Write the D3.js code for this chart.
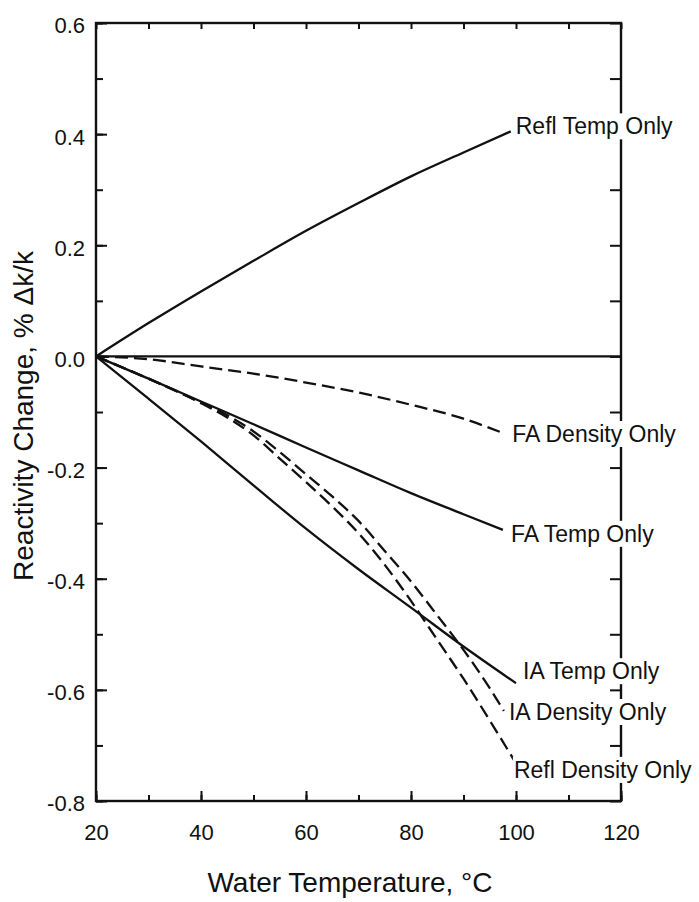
<!DOCTYPE html>
<html>
<head>
<meta charset="utf-8">
<script src="https://cdn.jsdelivr.net/npm/d3@7"></script>
<style>
  body { margin: 0; background: #fff; }
  svg { display: block; font-family: "Liberation Sans", Arial, Helvetica, sans-serif; }
</style>
</head>
<body>
<div id="chart"></div>
<script>
// Reactivity change vs water temperature, one line per effect

// series values: [water temperature (°C), reactivity change (% dk/k)]
const reflTemp = [[20, 0], [30, 0.06], [40, 0.117], [50, 0.172], [60, 0.226], [70, 0.276], [80, 0.324], [90, 0.367], [99, 0.405]];
const zeroLine = [[20, 0], [120, 0]];
const faDensity = [[20, 0], [30, -0.005], [40, -0.018], [50, -0.031], [60, -0.047], [70, -0.065], [80, -0.087], [90, -0.112], [97, -0.136]];
const faTemp = [[20, 0], [30, -0.040], [40, -0.081], [50, -0.122], [60, -0.164], [70, -0.205], [80, -0.246], [90, -0.284], [97.5, -0.312]];
const iaTemp = [[20, 0], [30, -0.076], [40, -0.153], [50, -0.232], [60, -0.31], [70, -0.383], [80, -0.452], [90, -0.522], [100, -0.588]];
const iaDensity = [[20, 0], [30, -0.04], [40, -0.083], [45, -0.106], [50, -0.135], [55, -0.172], [60, -0.212], [65, -0.252], [70, -0.296], [75, -0.35], [80, -0.405], [85, -0.466], [90, -0.528], [95, -0.597], [97.7, -0.638]];
const reflDensity = [[20, 0], [30, -0.04], [40, -0.084], [45, -0.11], [50, -0.142], [55, -0.184], [60, -0.226], [65, -0.27], [70, -0.318], [75, -0.375], [80, -0.44], [85, -0.51], [90, -0.58], [95, -0.655], [99.6, -0.726]];

// tick labels
const xTicks = [20, 40, 60, 80, 100, 120];
const yTicks = [0.6, 0.4, 0.2, 0.0, -0.2, -0.4, -0.6, -0.8];
const xMinor = d3.range(20, 121, 10);
const yMinor = d3.range(-8, 7).map(d => d / 10);

// series list: data, dashed?, label
const series = [
  { name: "Refl Temp Only", data: reflTemp, dashed: false },
  { name: null, data: zeroLine, dashed: false },
  { name: "FA Density Only", data: faDensity, dashed: true },
  { name: "FA Temp Only", data: faTemp, dashed: false },
  { name: "IA Temp Only", data: iaTemp, dashed: false },
  { name: "IA Density Only", data: iaDensity, dashed: true },
  { name: "Refl Density Only", data: reflDensity, dashed: true }
];

// label offsets (px) from each line's end point
const labelOffset = {
  "Refl Temp Only": [5, 3],
  "FA Density Only": [12, 10],
  "FA Temp Only": [8, 12],
  "IA Temp Only": [7, -4],
  "IA Density Only": [5, 9],
  "Refl Density Only": [0, 18]
};

const width = 699, height = 902;
const plot = { left: 96, right: 621, top: 23, bottom: 801 };

const svg = d3.select("#chart")
  .append("svg")
    .attr("width", width)
    .attr("height", height)
    .style("background", "#fff");

const x = d3.scaleLinear().domain([20, 120]).range([plot.left, plot.right]);
const y = d3.scaleLinear().domain([-0.8, 0.6]).range([plot.bottom, plot.top]);

// plain hyphen for negatives, like the original
const fmtY = d => d3.format(".1f")(d).replace("\u2212", "-");

// Axes (ticks point inward)
function styleAxis(g) {
  g.select(".domain").remove();
  g.selectAll(".tick line").attr("stroke", "#111").attr("stroke-width", 2);
  g.selectAll(".tick text").attr("fill", "#111").style("font-size", "22px");
}

svg.append("g")
  .attr("transform", `translate(0,${plot.bottom})`)
  .call(d3.axisBottom(x).tickValues(xMinor).tickSize(-6).tickFormat(""))
  .call(styleAxis);
svg.append("g")
  .attr("transform", `translate(0,${plot.bottom})`)
  .call(d3.axisBottom(x).tickValues(xTicks).tickSize(-10).tickPadding(23).tickFormat(d3.format("d")))
  .call(styleAxis);

svg.append("g")
  .attr("transform", `translate(${plot.left},0)`)
  .call(d3.axisLeft(y).tickValues(yMinor).tickSize(-7).tickFormat(""))
  .call(styleAxis);
svg.append("g")
  .attr("transform", `translate(${plot.left},0)`)
  .call(d3.axisLeft(y).tickValues(yTicks).tickSize(-11).tickPadding(11).tickFormat(fmtY))
  .call(styleAxis)
  .call(g => g.selectAll(".tick text").attr("dy", "0.45em"));

svg.append("g")
  .attr("transform", `translate(0,${plot.top})`)
  .call(d3.axisTop(x).tickValues(xMinor).tickSize(-6).tickFormat(""))
  .call(styleAxis);
svg.append("g")
  .attr("transform", `translate(${plot.right},0)`)
  .call(d3.axisRight(y).tickValues(yMinor).tickSize(-11).tickFormat(""))
  .call(styleAxis);

// frame
svg.append("rect")
  .attr("x", plot.left)
  .attr("y", plot.top)
  .attr("width", plot.right - plot.left)
  .attr("height", plot.bottom - plot.top)
  .attr("fill", "none")
  .attr("stroke", "#111")
  .attr("stroke-width", 2.4);

// lines
const line = d3.line()
  .x(d => x(d[0]))
  .y(d => y(d[1]))
  .curve(d3.curveMonotoneX);

svg.selectAll(".series")
  .data(series)
  .enter()
  .append("path")
    .attr("class", "series")
    .attr("d", d => line(d.data))
    .attr("fill", "none")
    .attr("stroke", "#111")
    .attr("stroke-width", 2.3)
    .attr("stroke-dasharray", d => d.dashed ? "13,6" : null);

// labels with white backing (they cut the right axis in the original)
const labels = svg.selectAll(".lbl")
  .data(series.filter(d => d.name))
  .enter()
  .append("g")
    .attr("class", "lbl")
    .attr("transform", d => {
      const end = d.data[d.data.length - 1];
      const off = labelOffset[d.name];
      return `translate(${x(end[0]) + off[0]},${y(end[1]) + off[1]})`;
    });

labels.append("text")
  .attr("x", 0)
  .attr("y", 0)
  .attr("fill", "#111")
  .style("font-size", "23px")
  .text(d => d.name);

labels.each(function() {
  const g = d3.select(this);
  const bb = g.select("text").node().getBBox();
  g.insert("rect", "text")
    .attr("x", bb.x - 1)
    .attr("y", bb.y)
    .attr("width", bb.width + 2)
    .attr("height", bb.height)
    .attr("fill", "#fff");
});

// axis titles
svg.append("text")
  .attr("x", 350)
  .attr("y", 892)
  .attr("text-anchor", "middle")
  .attr("fill", "#111")
  .style("font-size", "28px")
  .text("Water Temperature, °C");

svg.append("text")
  .attr("transform", "translate(33,416) rotate(-90)")
  .attr("text-anchor", "middle")
  .attr("fill", "#111")
  .style("font-size", "28px")
  .text("Reactivity Change, % Δk/k");
</script>
</body>
</html>
